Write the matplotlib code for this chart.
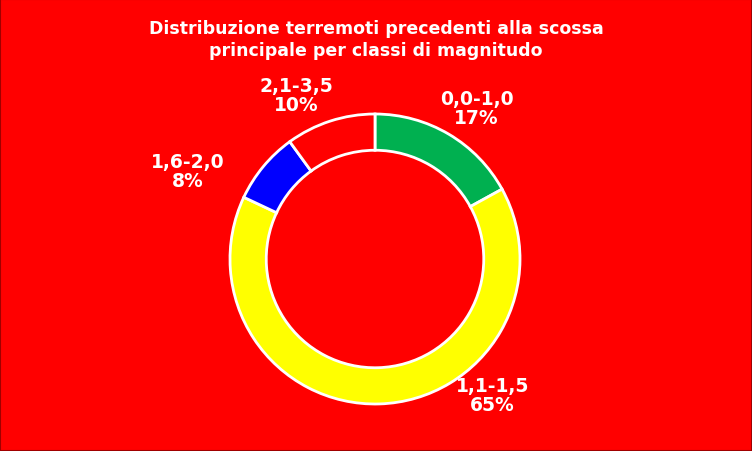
import matplotlib
matplotlib.use("Agg")
import matplotlib.pyplot as plt

categories = ["0,0-1,0", "1,1-1,5", "1,6-2,0", "2,1-3,5"]
values = [17, 65, 8, 10]
colors = ["#00B050", "#FFFF00", "#0000FF", "#FF0000"]

fig = plt.figure(figsize=(7.52, 4.52), dpi=100, facecolor="#FF0000")
ax = fig.add_axes([375/752 - 145/752, (452-260-145)/452, 290/752, 290/452])
ax.set_facecolor("#FF0000")
ax.pie(values, colors=colors, startangle=90, counterclock=False,
       wedgeprops=dict(width=0.25, edgecolor="white", linewidth=2))
ax.set_xlim(-1.0, 1.0); ax.set_ylim(-1.0, 1.0)
ax.set_aspect("equal")

label_pos = [(0.70, 1.04), (0.81, -0.94), (-1.29, 0.61), (-0.54, 1.13)]
for (x, y), c, v in zip(label_pos, categories, values):
    ax.text(x, y, f"{c}\n{v}%", ha="center", va="center", color="white",
            fontsize=13.5, fontweight="bold", linespacing=1.0, clip_on=False)

fig.text(0.5, 1 - 40/452, "Distribuzione terremoti precedenti alla scossa\nprincipale per classi di magnitudo",
         ha="center", va="center", color="white", fontsize=12.5, fontweight="bold", linespacing=1.25)
fig.patches.append(plt.Rectangle((0, 0), 1, 1, transform=fig.transFigure, fill=False,
                                 edgecolor="#A00000", linewidth=1.5))
fig.savefig("out.png", dpi=100, facecolor=fig.get_facecolor())
